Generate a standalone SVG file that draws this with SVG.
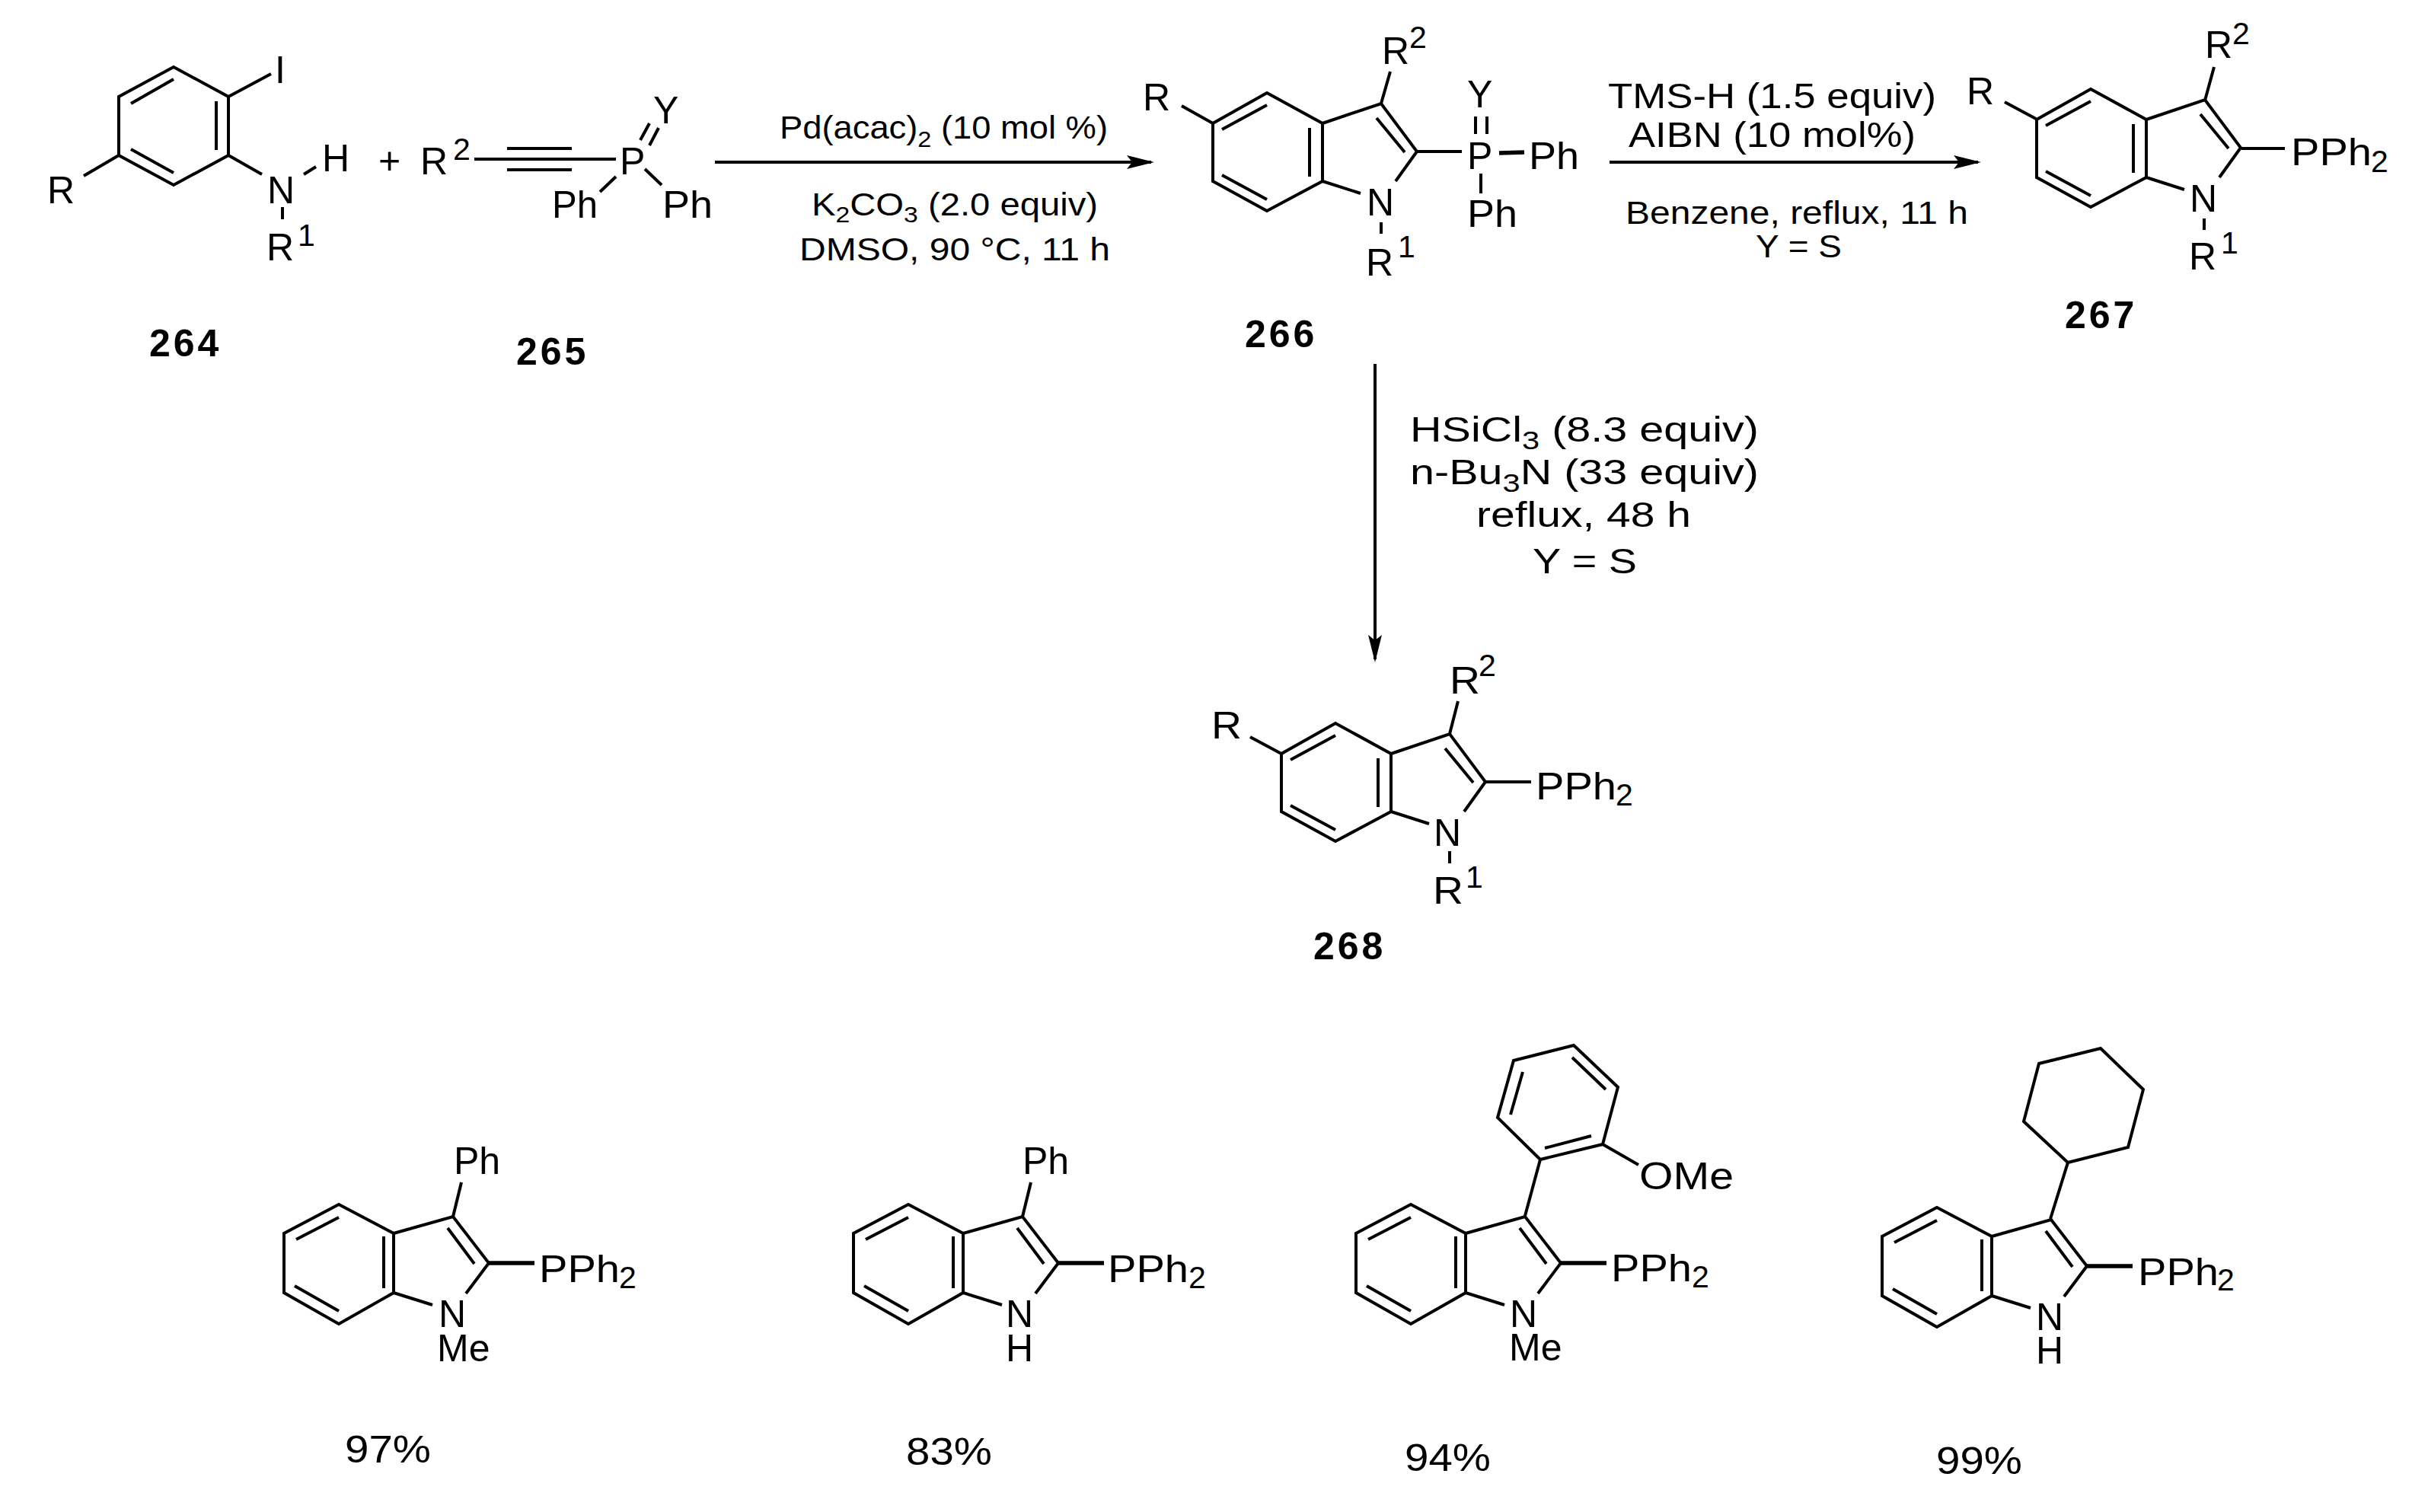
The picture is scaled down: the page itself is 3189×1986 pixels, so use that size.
<svg xmlns="http://www.w3.org/2000/svg" xmlns:xlink="http://www.w3.org/1999/xlink" width="3189" height="1986" viewBox="0 0 3189 1986">
<style>
text{font-family:"Liberation Sans",Arial,sans-serif;fill:#000}
.a{font-size:50px}
.s{font-size:41px}
.n{font-size:50px;font-weight:bold;letter-spacing:4px}
.c{font-size:42px}
.d{font-size:46px}
.y{font-size:47px}
.b{fill:none;stroke:#000;stroke-width:4;stroke-linecap:butt;stroke-linejoin:miter}
.k{fill:none;stroke:#000;stroke-width:5.5}
.ar{fill:none;stroke:#000;stroke-width:4}
</style>
<defs>
<marker id="head" markerUnits="userSpaceOnUse" viewBox="0 0 36 18" refX="32" refY="9" markerWidth="36" markerHeight="18" orient="auto"><path d="M0 0L36 9L0 18L7 9Z" fill="#000"/></marker>
<path id="indole-r" class="b" d="M1664 122L1737 162L1737 238L1664 277L1593 238L1593 162ZM1605 170L1664 138M1720 168L1720 232M1605 230L1664 262M1737 162L1814 136L1861 199L1833 238M1808 155L1845 200M1737 238L1787 254"/>
<path id="indole-a" class="b" d="M445 1582L517 1620L517 1698L445 1739L373 1698L373 1620ZM389 1628L445 1599M504 1624L504 1692M387 1689L445 1722M517 1620L595 1598L642 1659L612 1699M588 1613L623 1660M517 1698L568 1714"/>
<path id="ppb" class="k" d="M642 1659L702 1659"/>
</defs>
<rect width="3189" height="1986" fill="#fff"/>
<g id="connectors">
<path class="ar" d="M939 213L1512 213" marker-end="url(#head)"/>
<path class="ar" d="M2114 213L2598 213" marker-end="url(#head)"/>
<path class="ar" d="M1806 478L1806 866" marker-end="url(#head)"/>
</g>
<g id="compound-264">
<path class="b" d="M228 88L300 127L300 204L228 243L156 204L156 127ZM172 136L228 104M284 133L284 197M172 196L228 227M300 127L356 97M156 204L110 231M300 204L344 229M399 229L415 219M371 272L371 288"/>
<text class="a" x="361" y="109">I</text>
<text class="a" x="62" y="267">R</text>
<text class="a" x="351" y="267">N</text>
<text class="a" x="423" y="225">H</text>
<text class="a" x="350" y="342">R</text><text class="s" x="391" y="323">1</text>
<text class="n" x="196" y="468">264</text>
</g>
<text id="plus" class="a" x="497" y="228">+</text>
<g id="compound-265">
<path class="b" d="M623 209L809 209M666 195L751 195M666 223L751 223M841 184L853 162M853 191L865 168M809 232L788 252M847 222L869 243"/>
<text class="a" x="552" y="229">R</text><text class="s" x="595" y="210">2</text>
<text class="a" x="814" y="229">P</text>
<text class="a" x="858" y="162">Y</text>
<text class="a" x="725" y="286" textLength="60" lengthAdjust="spacingAndGlyphs">Ph</text>
<text class="a" x="870" y="286" textLength="66" lengthAdjust="spacingAndGlyphs">Ph</text>
<text class="n" x="678" y="479">265</text>
</g>
<g id="conditions-1">
<text class="c" x="1024" y="182" textLength="431" lengthAdjust="spacingAndGlyphs">Pd(acac)<tspan font-size="30" dy="11">2</tspan><tspan dy="-11"> (10 mol %)</tspan></text>
<text class="c" x="1066" y="283" textLength="376" lengthAdjust="spacingAndGlyphs">K<tspan font-size="30" dy="9">2</tspan><tspan dy="-9">CO</tspan><tspan font-size="30" dy="9">3</tspan><tspan dy="-9"> (2.0 equiv)</tspan></text>
<text class="c" x="1050" y="342" textLength="408" lengthAdjust="spacingAndGlyphs">DMSO, 90 °C, 11 h</text>
</g>
<g id="compound-266">
<use xlink:href="#indole-r" href="#indole-r"/>
<path class="b" d="M1861 199L1920 199M1814 136L1826 94M1593 162L1552 139M1814 292L1814 307M1938 153L1938 176M1953 153L1953 176M1945 228L1945 254"/>
<path class="k" d="M1969 201L2002 200"/>
<text class="a" x="1501" y="145">R</text>
<text class="a" x="1815" y="84">R</text><text class="s" x="1851" y="63">2</text>
<text class="a" x="1795" y="283">N</text>
<text class="a" x="1794" y="362">R</text><text class="s" x="1836" y="338">1</text>
<text class="a" x="1927" y="222">P</text>
<text class="a" x="1927" y="141">Y</text>
<text class="a" x="2008" y="222" textLength="66" lengthAdjust="spacingAndGlyphs">Ph</text>
<text class="a" x="1927" y="298" textLength="66" lengthAdjust="spacingAndGlyphs">Ph</text>
<text class="n" x="1635" y="456">266</text>
</g>
<g id="conditions-2">
<text class="d" x="2112" y="142" textLength="431" lengthAdjust="spacingAndGlyphs">TMS-H (1.5 equiv)</text>
<text class="d" x="2139" y="193" textLength="377" lengthAdjust="spacingAndGlyphs">AIBN (10 mol%)</text>
<text class="c" x="2135" y="294" textLength="450" lengthAdjust="spacingAndGlyphs">Benzene, reflux, 11 h</text>
<text class="c" x="2306" y="338" textLength="113" lengthAdjust="spacingAndGlyphs">Y = S</text>
</g>
<g id="compound-267">
<use xlink:href="#indole-r" href="#indole-r" transform="translate(1082 -5)"/>
<path class="b" d="M2944 195L3001 195M2896 132L2908 88M2674 156L2633 134M2895 287L2895 302"/>
<text class="a" x="2583" y="137">R</text>
<text class="a" x="2896" y="76">R</text><text class="s" x="2932" y="58">2</text>
<text class="a" x="2876" y="278">N</text>
<text class="a" x="2875" y="354">R</text><text class="s" x="2917" y="333">1</text>
<text class="a" x="3009" y="217" textLength="106" lengthAdjust="spacingAndGlyphs">PPh</text><text class="s" x="3114" y="226">2</text>
<text class="n" x="2712" y="431">267</text>
</g>
<g id="conditions-3">
<text class="y" x="1852" y="580" textLength="458" lengthAdjust="spacingAndGlyphs">HSiCl<tspan font-size="34" dy="10">3</tspan><tspan dy="-10"> (8.3 equiv)</tspan></text>
<text class="y" x="1852" y="636" textLength="458" lengthAdjust="spacingAndGlyphs">n-Bu<tspan font-size="34" dy="10">3</tspan><tspan dy="-10">N (33 equiv)</tspan></text>
<text class="y" x="1939" y="692" textLength="282" lengthAdjust="spacingAndGlyphs">reflux, 48 h</text>
<text class="y" x="2013" y="753" textLength="137" lengthAdjust="spacingAndGlyphs">Y = S</text>
</g>
<g id="compound-268">
<use xlink:href="#indole-r" href="#indole-r" transform="translate(90 828)"/>
<path class="b" d="M1951 1027L2011 1027M1904 964L1915 921M1683 990L1642 968M1904 1118L1904 1134"/>
<text class="a" x="1591" y="970" textLength="40" lengthAdjust="spacingAndGlyphs">R</text>
<text class="a" x="1904" y="911" textLength="40" lengthAdjust="spacingAndGlyphs">R</text><text class="s" x="1942" y="888">2</text>
<text class="a" x="1883" y="1111">N</text>
<text class="a" x="1882" y="1187" textLength="40" lengthAdjust="spacingAndGlyphs">R</text><text class="s" x="1925" y="1166">1</text>
<text class="a" x="2017" y="1050" textLength="106" lengthAdjust="spacingAndGlyphs">PPh</text><text class="s" x="2122" y="1058">2</text>
<text class="n" x="1725" y="1260">268</text>
</g>
<g id="product-a">
<use xlink:href="#indole-a" href="#indole-a"/>
<use xlink:href="#ppb" href="#ppb"/>
<path class="b" d="M595 1598L606 1553"/>
<text class="a" x="596" y="1542">Ph</text>
<text class="a" x="708" y="1684" textLength="106" lengthAdjust="spacingAndGlyphs">PPh</text><text class="s" x="813" y="1692">2</text>
<text class="a" x="576" y="1743">N</text>
<text class="a" x="574" y="1788">Me</text>
<text class="a" x="453" y="1921" textLength="113" lengthAdjust="spacingAndGlyphs">97%</text>
</g>
<g id="product-b">
<use xlink:href="#indole-a" href="#indole-a" transform="translate(748 0)"/>
<use xlink:href="#ppb" href="#ppb" transform="translate(748 0)"/>
<path class="b" d="M1343 1598L1354 1553"/>
<text class="a" x="1343" y="1542">Ph</text>
<text class="a" x="1455" y="1684" textLength="106" lengthAdjust="spacingAndGlyphs">PPh</text><text class="s" x="1561" y="1692">2</text>
<text class="a" x="1321" y="1743">N</text>
<text class="a" x="1321" y="1788">H</text>
<text class="a" x="1190" y="1924" textLength="113" lengthAdjust="spacingAndGlyphs">83%</text>
</g>
<g id="product-c">
<use xlink:href="#indole-a" href="#indole-a" transform="translate(1408 0)"/>
<use xlink:href="#ppb" href="#ppb" transform="translate(1408 0)"/>
<path class="b" d="M2003 1597L2023 1523L2105 1503L2125 1428L2067 1373L1988 1393L1967 1468L2023 1523M2029 1508L2090 1492M2109 1431L2065 1389M1984 1464L2000 1408M2105 1503L2152 1530"/>
<text class="a" x="2153" y="1562" textLength="124" lengthAdjust="spacingAndGlyphs">OMe</text>
<text class="a" x="2116" y="1683" textLength="106" lengthAdjust="spacingAndGlyphs">PPh</text><text class="s" x="2222" y="1691">2</text>
<text class="a" x="1983" y="1743">N</text>
<text class="a" x="1982" y="1787">Me</text>
<text class="a" x="1845" y="1932" textLength="113" lengthAdjust="spacingAndGlyphs">94%</text>
</g>
<g id="product-d">
<use xlink:href="#indole-a" href="#indole-a" transform="translate(2099 4)"/>
<use xlink:href="#ppb" href="#ppb" transform="translate(2099 4)"/>
<path class="b" d="M2693 1601L2716 1527L2795 1507L2815 1431L2759 1377L2678 1397L2658 1473L2716 1527"/>
<text class="a" x="2808" y="1688" textLength="106" lengthAdjust="spacingAndGlyphs">PPh</text><text class="s" x="2912" y="1695">2</text>
<text class="a" x="2674" y="1747">N</text>
<text class="a" x="2674" y="1791">H</text>
<text class="a" x="2543" y="1936" textLength="113" lengthAdjust="spacingAndGlyphs">99%</text>
</g>
</svg>
